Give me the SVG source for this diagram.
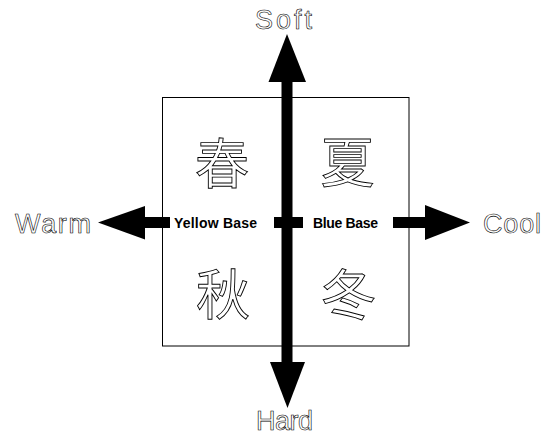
<svg xmlns="http://www.w3.org/2000/svg" width="552" height="436" viewBox="0 0 552 436">
<style>
.axis{font-family:"Liberation Sans",Arial,sans-serif;font-size:27px;fill:#fff;stroke:#000;stroke-width:0.6px}
.base{font-family:"Liberation Sans",Arial,sans-serif;font-size:14px;font-weight:bold;fill:#000}
.kanji{font-family:"Noto Sans CJK JP","Noto Sans CJK SC",sans-serif;font-size:54px;fill:#fff;stroke:#000;stroke-width:0.9px;text-anchor:middle}
.bar{fill:#000}
</style>
<rect width="552" height="436" fill="#fff"/>
<g id="box">
<rect x="162.5" y="97.5" width="246.5" height="248.5" fill="#fff" stroke="#000" stroke-width="1"/>
</g>
<g id="spring"><text class="kanji" x="222" y="184">春</text></g>
<g id="summer"><text class="kanji" x="347.5" y="183">夏</text></g>
<g id="autumn"><text class="kanji" x="223" y="315">秋</text></g>
<g id="winter"><text class="kanji" x="348.5" y="315">冬</text></g>
<g id="connectors">
<rect class="bar" x="145" y="217" width="25" height="11"/>
<rect class="bar" x="274" y="217" width="29" height="11"/>
<rect class="bar" x="393" y="217" width="32" height="11"/>
<polygon class="bar" points="98,222.5 145,206 145,239.5"/>
<polygon class="bar" points="470,222.5 425,205 425,240"/>
<rect class="bar" x="281.5" y="82" width="11" height="280"/>
<polygon class="bar" points="287,34 268.5,82 306,82"/>
<polygon class="bar" points="287.5,408 270,362 305,362"/>
</g>
<g id="yellow-base"><text class="base" x="174" y="228" textLength="83">Yellow Base</text></g>
<g id="blue-base"><text class="base" x="313" y="228" textLength="65">Blue Base</text></g>
<g id="soft"><text class="axis" x="255" y="29" textLength="57">Soft</text></g>
<g id="hard"><text class="axis" x="256" y="430" textLength="57">Hard</text></g>
<g id="warm"><text class="axis" x="15" y="233" textLength="76">Warm</text></g>
<g id="cool"><text class="axis" x="483" y="233" textLength="58">Cool</text></g>
</svg>
